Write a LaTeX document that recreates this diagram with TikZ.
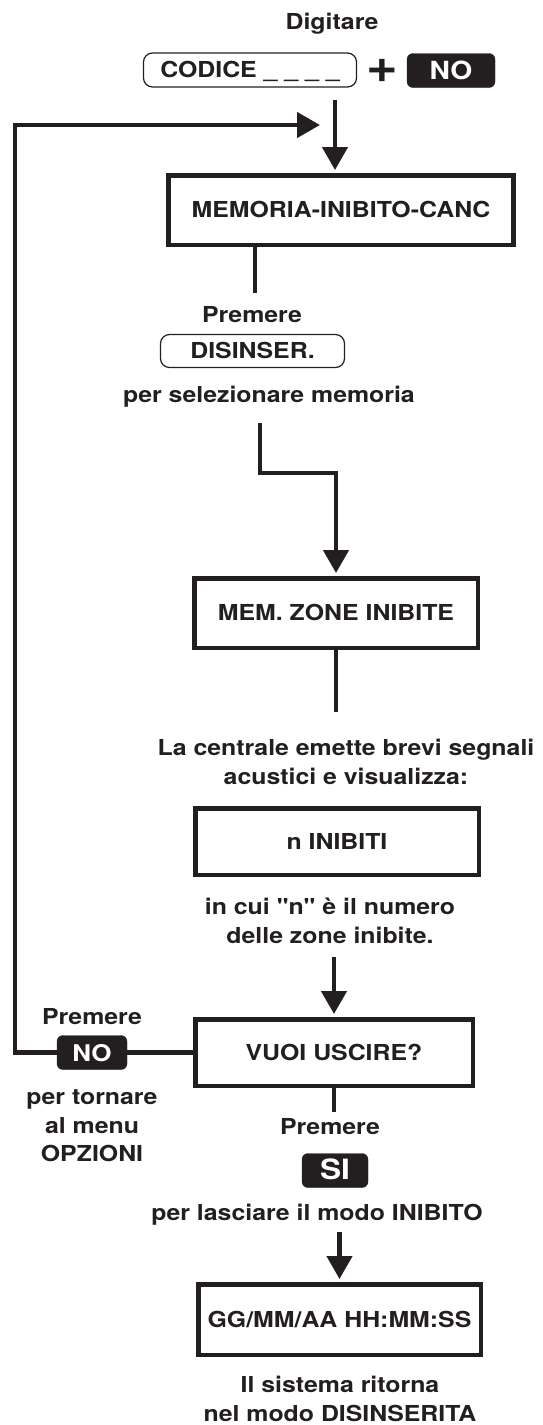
\documentclass[tikz,border=0pt]{standalone}
\usepackage{fontspec}
\setmainfont[FakeStretch=1.13, Ligatures=TeXOff]{TeX Gyre Heros}
\usepackage{tikz}
\usetikzlibrary{arrows.meta, positioning, calc}
\definecolor{panelink}{HTML}{231F20}
\newcommand{\flowfont}{\fontsize{22}{28.5}\selectfont\bfseries}
\newcommand{\keyfont}{\fontsize{25}{25}\selectfont\bfseries}

\begin{document}
\begin{tikzpicture}[x=1pt, y=-1pt,
  label/.style={font=\flowfont, text=panelink, inner sep=0pt, align=center},
  oneline/.style={label, text height=15.8pt, text depth=0pt},
  screen/.style={oneline, draw=panelink, line width=4.5pt, minimum width=#1, minimum height=68pt},
  keycap/.style={oneline, draw=panelink, line width=1.2pt, rounded corners=9pt, minimum height=34pt, minimum width=#1},
  keysolid/.style={oneline, font=\keyfont, text height=18pt, fill=panelink, draw=panelink, text=white, rounded corners=6pt, minimum height=34pt, minimum width=#1},
  flow/.style={draw=panelink, line width=4.5pt},
  flowarrow/.style={flow, -{Triangle[width=25pt, length=23pt]}, shorten >=3pt}
]
\useasboundingbox (0,0) rectangle (542,1425);

\node[oneline] (digitare) at (332,22) {Digitare};
\node[keycap=213pt] (codice) at (250,70) {CODICE \_ \_ \_ \_};
\node[label, font=\fontsize{48}{48}\selectfont\bfseries] (plus) at (382,71) {+};
\node[keysolid=88pt] (noA) at (451,70.5) {NO};

\node[screen=345pt, minimum height=69.5pt] (menu) at (341,210) {MEMORIA-INIBITO-CANC};
\node[oneline] (premA) at (252,315) {Premere};
\node[keycap=184pt, minimum height=33pt] (disinser) at (252.5,351) {DISINSER.};
\node[oneline] (selmem) at (269,395) {per selezionare memoria};

\node[screen=283.5pt, minimum height=69.5pt] (zone) at (336,613) {MEM. ZONE INIBITE};
\node[label] (centrale) at (346,762) {La centrale emette brevi segnali\\ acustici e visualizza:};
\node[screen=283.5pt, minimum height=66.5pt] (inibiti) at (337,841.5) {n INIBITI};
\node[label] (numero) at (330,921) {in cui "n" è il numero\\ delle zone inibite.};

\node[screen=277.5pt, minimum height=66.5pt] (uscire) at (334,1052.5) {VUOI USCIRE?};
\node[oneline] (premB) at (92,1017) {Premere};
\node[keysolid=70pt, font=\fontsize{23}{23}\selectfont\bfseries] (noB) at (92,1052.5) {NO};
\node[label] (tornare) at (92,1126) {per tornare\\ al menu\\ OPZIONI};
\node[oneline] (premC) at (330,1127) {Premere};
\node[keysolid=66pt, font=\fontsize{28}{28}\selectfont\bfseries] (si) at (335,1170.5) {SI};
\node[oneline] (lasciare) at (317,1213) {per lasciare il modo INIBITO};

\node[screen=282.5pt, minimum height=70.5pt] (data) at (339.5,1319.5) {GG/MM/AA HH:MM:SS};
\node[label] (ritorna) at (340,1399) {Il sistema ritorna\\ nel modo DISINSERITA};

\coordinate (entry) at (335,100);
\coordinate (back) at (320,125);
\coordinate (loopcorner) at (15,125);
\coordinate (menuend) at (255,293);
\coordinate (stepstart) at (260,423);
\coordinate (stepturn) at (336,473);
\coordinate (zoneend) at (336,712);
\coordinate (quitin) at (334,957);
\coordinate (quitend) at (334,1112);
\coordinate (datain) at (339.5,1232);

\draw[flowarrow] (entry) -- (entry |- menu.north);
\draw[flowarrow, shorten >=0pt] (noB.west) -| (loopcorner) -- (back);
\draw[flow] (uscire.west) -- (noB.east);
\draw[flow] (menuend |- menu.south) -- (menuend);
\draw[flowarrow] (stepstart) |- (stepturn) -- (zone.north);
\draw[flow] (zone.south) -- (zoneend);
\draw[flowarrow] (quitin) -- (uscire.north);
\draw[flow] (uscire.south) -- (quitend);
\draw[flowarrow] (datain) -- (data.north);
\end{tikzpicture}
\end{document}
